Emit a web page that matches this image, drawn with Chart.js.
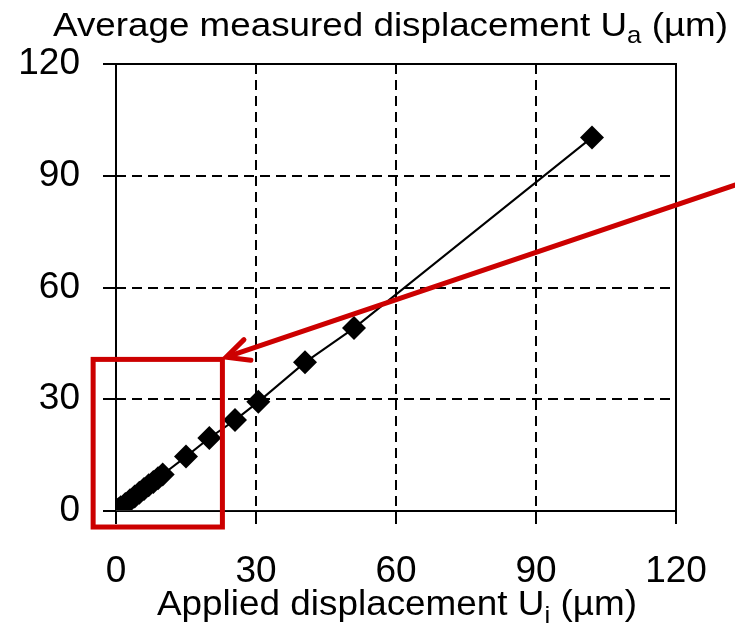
<!DOCTYPE html>
<html>
<head>
<meta charset="utf-8">
<script src="https://cdn.jsdelivr.net/npm/chart.js@4/dist/chart.umd.min.js"></script>
<style>
  html, body { margin: 0; padding: 0; background: #fff; }
  #wrap { width: 735px; height: 625px; }
</style>
</head>
<body>
<div id="wrap"><canvas id="myChart" width="735" height="625"></canvas></div>
<script>
// applied displacement Ui vs average measured displacement Ua (um)
const appliedUi = [0.5, 1, 2, 3, 4, 5, 6, 7, 8, 9, 10, 15, 20, 25.5, 30.5, 40.5, 51, 102];
const measuredUa = [0.5, 1, 1.9, 2.9, 3.9, 4.9, 5.9, 6.9, 7.8, 8.8, 9.8, 14.6, 19.6, 24.4, 29.3, 39.9, 49.1, 100.3];

// faint second line lying just under the x axis
const baseUi = [0, 120];
const baseUa = [0, -0.4];

const tickValues = [0, 30, 60, 90, 120];

const yTitle = ['Average measured displacement U', 'a', ' (\u00b5m)'];
const xTitle = ['Applied displacement U', 'i', ' (\u00b5m)'];

// zoom box and arrow, in data units
const boxX = [-4.9, 22.8];
const boxY = [-4.3, 40.7];
const arrowX = [132.6, 23.6];
const arrowY = [87.5, 41.3];

const FONT = "'Liberation Sans', Arial, sans-serif";
const RED = '#cc0000';

function toPoints(xs, ys) {
    var pts = [];
    for (var i = 0; i < xs.length; i++) {
        pts.push({x: xs[i], y: ys[i]});
    }
    return pts;
}

function drawTitle(ctx, parts, left, baseline, size, width) {
    var subSize = size * 0.7;
    var fonts = [size + 'px ' + FONT, subSize + 'px ' + FONT, size + 'px ' + FONT];
    var total = 0;
    for (var i = 0; i < parts.length; i++) {
        ctx.font = fonts[i];
        total += ctx.measureText(parts[i]).width;
    }
    ctx.save();
    ctx.translate(left, baseline);
    ctx.scale(width / total, 1);
    ctx.fillStyle = '#000';
    ctx.textBaseline = 'alphabetic';
    ctx.textAlign = 'left';
    var x = 0;
    for (var i = 0; i < parts.length; i++) {
        ctx.font = fonts[i];
        ctx.fillText(parts[i], x, i == 1 ? size * 0.22 : 0);
        x += ctx.measureText(parts[i]).width;
    }
    ctx.restore();
}

const framePlugin = {
    id: 'frame',
    beforeDatasetsDraw(chart) {
        const a = chart.chartArea;
        const ctx = chart.ctx;
        ctx.save();
        ctx.strokeStyle = '#000';
        ctx.lineWidth = 2;
        ctx.setLineDash([]);
        ctx.strokeRect(a.left, a.top, a.right - a.left, a.bottom - a.top);
        ctx.restore();
    }
};

const notesPlugin = {
    id: 'notes',
    afterDraw(chart) {
        const ctx = chart.ctx;
        const xs = chart.scales.x;
        const ys = chart.scales.y;

        // red zoom box
        ctx.save();
        ctx.strokeStyle = RED;
        ctx.lineWidth = 5;
        ctx.lineJoin = 'miter';
        var bx1 = xs.getPixelForValue(boxX[0]), bx2 = xs.getPixelForValue(boxX[1]);
        var by1 = ys.getPixelForValue(boxY[1]), by2 = ys.getPixelForValue(boxY[0]);
        ctx.strokeRect(bx1, by1, bx2 - bx1, by2 - by1);

        // arrow pointing at the box
        var ax1 = xs.getPixelForValue(arrowX[0]), ay1 = ys.getPixelForValue(arrowY[0]);
        var ax2 = xs.getPixelForValue(arrowX[1]), ay2 = ys.getPixelForValue(arrowY[1]);
        ctx.lineCap = 'round';
        ctx.beginPath();
        ctx.moveTo(ax1, ay1);
        ctx.lineTo(ax2 + 3, ay2 - 1);
        ctx.stroke();
        var ang = Math.atan2(ay1 - ay2, ax1 - ax2);
        var len = 25, spread = 0.45;
        ctx.beginPath();
        ctx.moveTo(ax2 + len * Math.cos(ang - spread), ay2 + len * Math.sin(ang - spread));
        ctx.lineTo(ax2, ay2);
        ctx.lineTo(ax2 + len * Math.cos(ang + spread), ay2 + len * Math.sin(ang + spread));
        ctx.stroke();
        ctx.restore();

        drawTitle(ctx, yTitle, 53, 36, 34, 675);
        var xw = 480;
        var cx = (chart.chartArea.left + chart.chartArea.right) / 2;
        drawTitle(ctx, xTitle, cx - xw / 2 + 1, 615, 35, xw);
    }
};

createChart();

function createChart() {
    var ctx = document.getElementById('myChart').getContext('2d');

    var tickFont = {family: FONT, size: 37};

    var myChart = new Chart(ctx, {
        type: 'scatter',
        data: {
            datasets: [{
                label: 'base',
                data: toPoints(baseUi, baseUa),
                showLine: true,
                borderColor: '#666',
                borderWidth: 1,
                pointRadius: 0,
            }, {
                label: 'Ua',
                data: toPoints(appliedUi, measuredUa),
                showLine: true,
                borderColor: '#000',
                borderWidth: 2,
                backgroundColor: '#000',
                pointStyle: 'rectRot',
                pointRadius: 12,
                pointBorderWidth: 0,
                tension: 0,
            }]
        },
        options: {
            responsive: false,
            animation: false,
            devicePixelRatio: 1,
            layout: {padding: {top: 64, right: 59, left: 0, bottom: 0}},
            plugins: {
                legend: {display: false},
                tooltip: {enabled: false},
            },
            scales: {
                x: {
                    type: 'linear',
                    min: 0,
                    max: 120,
                    afterFit: function(scale) { scale.height = 114; },
                    afterBuildTicks: function(scale) {
                        scale.ticks = tickValues.map(function(v) { return {value: v}; });
                    },
                    ticks: {color: '#000', font: tickFont, padding: 26, maxRotation: 0},
                    grid: {color: '#000', lineWidth: 2, borderDash: [10, 6], tickLength: 13,
                           tickColor: '#000', tickWidth: 2, tickBorderDash: []},
                    border: {display: false, dash: [10, 6]},
                },
                y: {
                    type: 'linear',
                    min: 0,
                    max: 120,
                    afterFit: function(scale) { scale.width = 116; },
                    afterBuildTicks: function(scale) {
                        scale.ticks = tickValues.map(function(v) { return {value: v}; });
                    },
                    ticks: {color: '#000', font: tickFont, padding: 23},
                    grid: {color: '#000', lineWidth: 2, borderDash: [10, 6], tickLength: 13,
                           tickColor: '#000', tickWidth: 2, tickBorderDash: []},
                    border: {display: false, dash: [10, 6]},
                }
            }
        },
        plugins: [framePlugin, notesPlugin]
    });
}
</script>
</body>
</html>
